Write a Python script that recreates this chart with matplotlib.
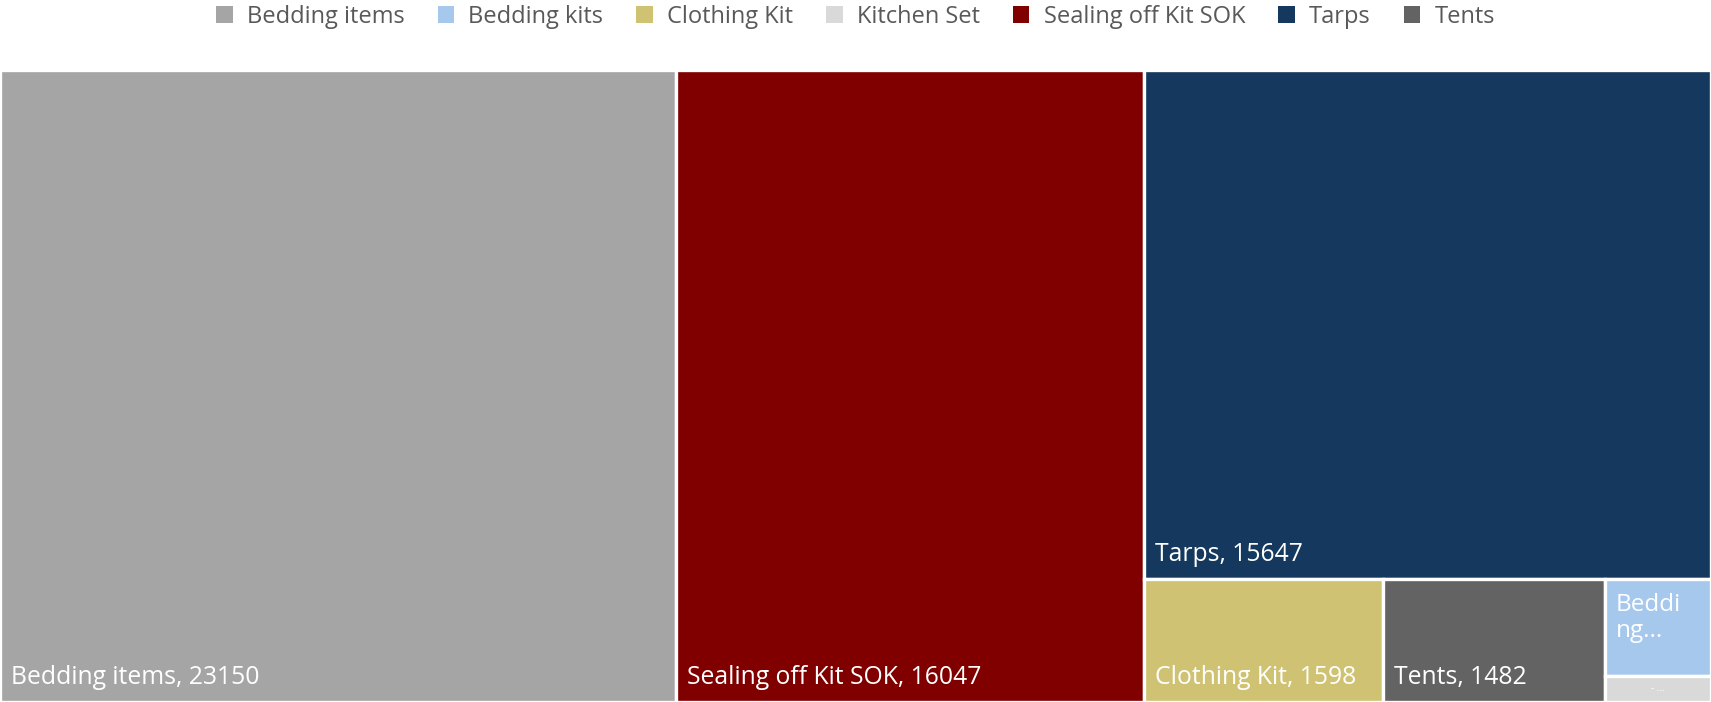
import matplotlib
matplotlib.use("Agg")
import matplotlib.pyplot as plt
from matplotlib.patches import Rectangle, Patch

# ---- data ----
categories = ["Bedding items", "Bedding kits", "Clothing Kit", "Kitchen Set",
              "Sealing off Kit SOK", "Tarps", "Tents"]
values = [23150, 560, 1598, 150, 16047, 15647, 1482]
colors = ["#A5A5A5", "#A5C8EC", "#CFC373", "#D9D9D9", "#800000", "#15395E", "#636363"]
display_labels = {"Bedding kits": "Beddi\nng...", "Kitchen Set": "- ..."}

W, H = 1711, 632
plt.rcParams['font.family'] = ['Open Sans', 'DejaVu Sans']


def worst(row, side):
    s = sum(row)
    mx, mn = max(row), min(row)
    return max(side * side * mx / (s * s), (s * s) / (side * side * mn))


def layout_row(row, x, y, w, h):
    rects = []
    s = sum(row)
    if w >= h:  # column along left side
        cw = s / h
        yy = y + h
        for v in row:
            rh = v / cw
            yy -= rh
            rects.append((x, yy, cw, rh))
        return rects, (x + cw, y, w - cw, h)
    else:  # row along top
        rh = s / w
        xx = x
        for v in row:
            rw = v / rh
            rects.append((xx, y + h - rh, rw, rh))
            xx += rw
        return rects, (x, y, w, h - rh)


def squarify(vals, x, y, w, h):
    total = sum(vals)
    scale = w * h / total
    areas = [v * scale for v in vals]
    out = []
    row = []
    i = 0
    while i < len(areas):
        side = min(w, h)
        a = areas[i]
        if not row or worst(row + [a], side) <= worst(row, side):
            row.append(a)
            i += 1
        else:
            r, (x, y, w, h) = layout_row(row, x, y, w, h)
            out += r
            row = []
    if row:
        r, _ = layout_row(row, x, y, w, h)
        out += r
    return out


order = sorted(range(len(values)), key=lambda k: -values[k])
rects = squarify([values[k] for k in order], 0, 0, W, H)

fig = plt.figure(figsize=(17.11, 7.02), dpi=100)
ax = fig.add_axes([0, 0, 1, H / 702])
ax.set_xlim(0, W)
ax.set_ylim(0, H)
ax.axis("off")

for k, (x, y, w, h) in zip(order, rects):
    ax.add_patch(Rectangle((x, y), w, h, facecolor=colors[k], edgecolor="white", linewidth=2.4))
    cat = categories[k]
    if cat in display_labels:
        txt = display_labels[cat]
        if cat == "Bedding kits":
            ax.text(x + 11, y + h - 14, txt, color="white", fontsize=17.5, va="top", ha="left",
                    linespacing=1.15)
        else:
            ax.text(x + w / 2, y + h / 2, txt, color="white", fontsize=7, va="center", ha="center")
    else:
        ax.text(x + 11, y + 18, f"{cat}, {values[k]}", color="white", fontsize=17.8,
                va="baseline", ha="left")

handles = [Patch(facecolor=c, edgecolor="none") for c in colors]
fig.legend(handles, categories, loc="center", bbox_to_anchor=(0.5, 1 - 17 / 702), ncol=7,
           frameon=False, fontsize=17, handlelength=0.7, handleheight=0.7,
           handletextpad=0.6, columnspacing=1.4, labelcolor="#595959")

fig.savefig("out.png", dpi=100)
